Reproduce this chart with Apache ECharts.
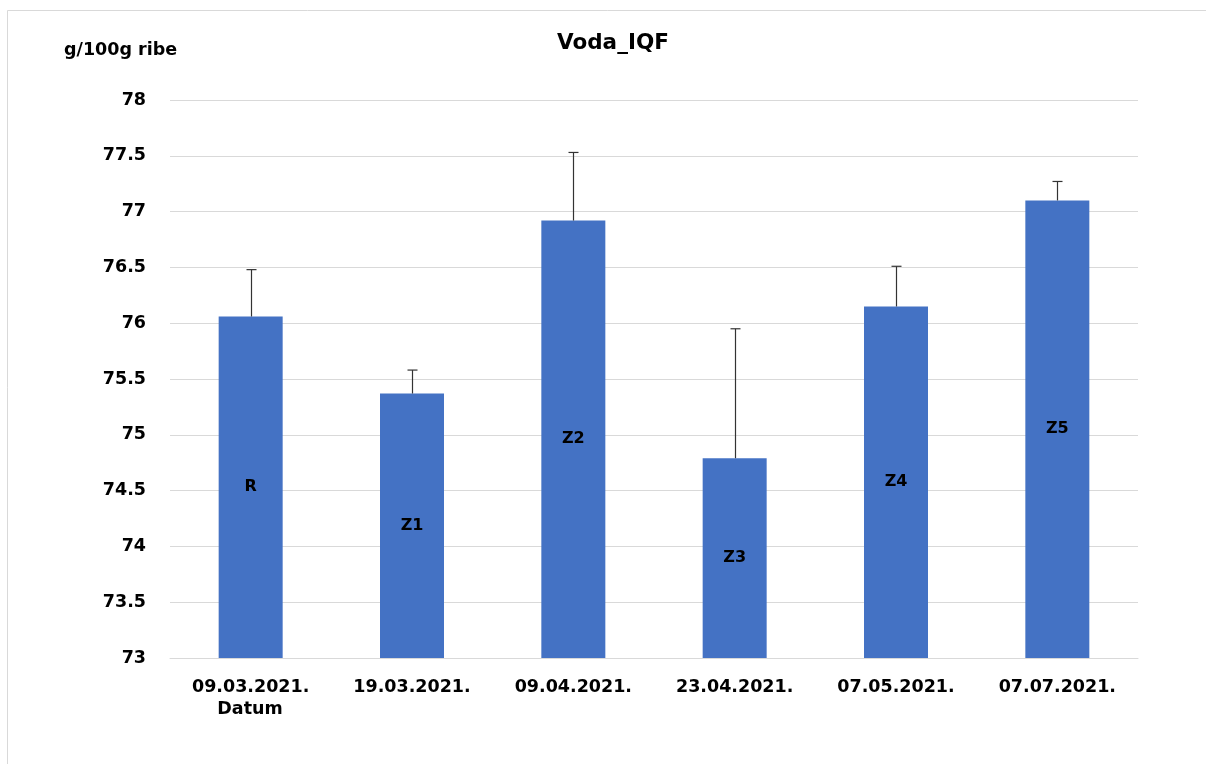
<!DOCTYPE html>
<html>
<head>
<meta charset="utf-8">
<script src="https://cdn.jsdelivr.net/npm/echarts@6/dist/echarts.min.js"></script>
<style>html,body{margin:0;padding:0;background:#fff;}#c{width:1206px;height:764px;}</style>
</head>
<body>
<div id="c"></div>
<script>
var categories = ['09.03.2021.', '19.03.2021.', '09.04.2021.', '23.04.2021.', '07.05.2021.', '07.07.2021.'];
var barLabels = ['R', 'Z1', 'Z2', 'Z3', 'Z4', 'Z5'];
var values = [76.06, 75.37, 76.92, 74.79, 76.15, 77.10];
var errorTops = [76.48, 75.58, 77.53, 75.95, 76.51, 77.27];
var yTicks = [73, 73.5, 74, 74.5, 75, 75.5, 76, 76.5, 77, 77.5, 78];

var font = '"DejaVu Sans", Verdana, sans-serif';
var chart = echarts.init(document.getElementById('c'));
chart.setOption({
  animation: false,
  backgroundColor: '#fff',
  title: {
    text: 'Voda_IQF', left: 552, top: 27,
    textStyle: { fontFamily: font, fontWeight: 'bold', fontSize: 21.5, color: '#000' }
  },
  graphic: [
    { type: 'rect', shape: { x: 7.5, y: 10.5, width: 1220, height: 780 }, style: { fill: 'none', stroke: '#d9d9d9', lineWidth: 1 }, z: -1 },
    { type: 'text', left: 64, top: 41, style: { text: 'g/100g ribe', fontFamily: font, fontWeight: 'bold', fontSize: 17.5, fill: '#000' } },
    { type: 'text', x: 250, y: 700, style: { text: 'Datum', align: 'center', fontFamily: font, fontWeight: 'bold', fontSize: 17.5, fill: '#000' } }
  ],
  grid: { left: 170, right: 68, top: 100, bottom: 106 },
  xAxis: {
    type: 'category', data: categories,
    axisLine: { lineStyle: { color: '#d9d9d9', width: 1 } },
    axisTick: { show: false },
    axisLabel: { color: '#000', fontFamily: font, fontWeight: 'bold', fontSize: 17.5, margin: 20 }
  },
  yAxis: {
    type: 'value', min: 73, max: 78, interval: 0.5,
    axisLine: { show: false }, axisTick: { show: false },
    splitLine: { lineStyle: { color: '#d9d9d9', width: 1 } },
    axisLabel: {
      color: '#000', fontFamily: font, fontWeight: 'bold', fontSize: 17.5, margin: 24,
      formatter: function (v) { var s = String(Math.round(v * 10) / 10); return yTicks.indexOf(Number(s)) >= 0 ? s : ''; }
    }
  },
  series: [
    {
      type: 'bar', data: values, barWidth: 64,
      itemStyle: { color: '#4472C4' },
      label: {
        show: true, position: 'inside', color: '#000', fontFamily: font, fontWeight: 'bold', fontSize: 16,
        formatter: function (p) { return barLabels[p.dataIndex]; }
      },
      z: 2
    },
    {
      type: 'custom',
      data: values.map(function (v, i) { return [i, v, errorTops[i]]; }),
      renderItem: function (params, api) {
        var base = api.coord([api.value(0), api.value(1)]);
        var top = api.coord([api.value(0), api.value(2)]);
        var x = Math.round(base[0]) + 0.5;
        return {
          type: 'group',
          children: [
            { type: 'line', shape: { x1: x, y1: base[1], x2: x, y2: top[1] }, style: { stroke: '#333', lineWidth: 1.2 } },
            { type: 'line', shape: { x1: x - 5, y1: top[1], x2: x + 5, y2: top[1] }, style: { stroke: '#333', lineWidth: 1.2 } }
          ]
        };
      },
      z: 3
    }
  ]
});
</script>
</body>
</html>
